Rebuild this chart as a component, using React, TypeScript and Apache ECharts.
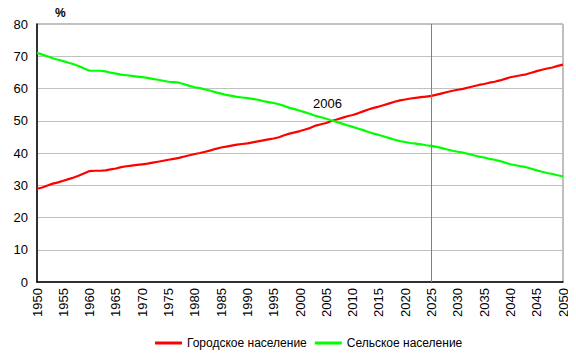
import React, { useEffect, useRef } from "react";
import * as echarts from "echarts";

const years: number[] = [];
for (let y = 1950; y <= 2050; y++) years.push(y);

const urban = [
  28.9, 29.3, 29.9, 30.5, 30.9, 31.4, 31.9, 32.4, 33.0, 33.7,
  34.4, 34.5, 34.5, 34.6, 34.9, 35.2, 35.6, 35.9, 36.1, 36.3,
  36.5, 36.7, 37.0, 37.3, 37.6, 37.9, 38.2, 38.5, 38.9, 39.3,
  39.7, 40.0, 40.4, 40.8, 41.3, 41.7, 42.0, 42.3, 42.6, 42.8,
  43.0, 43.3, 43.6, 43.9, 44.2, 44.5, 44.9, 45.5, 46.0, 46.4,
  46.8, 47.3, 47.8, 48.5, 48.9, 49.3, 49.9, 50.4, 50.9, 51.4,
  51.8, 52.3, 52.9, 53.5, 54.0, 54.4, 54.9, 55.4, 55.9, 56.3,
  56.6, 56.9, 57.1, 57.3, 57.5, 57.7, 58.1, 58.5, 58.9, 59.3,
  59.6, 59.9, 60.3, 60.7, 61.1, 61.4, 61.8, 62.1, 62.5, 63.0,
  63.5, 63.8, 64.1, 64.4, 64.9, 65.4, 65.8, 66.2, 66.5, 67.0,
  67.4,
];

const rural = [
  71.1, 70.5, 70.0, 69.4, 68.9, 68.5, 68.0, 67.5, 66.9, 66.2,
  65.5, 65.5, 65.5, 65.3, 64.9, 64.6, 64.3, 64.1, 63.9, 63.7,
  63.5, 63.3, 63.0, 62.7, 62.4, 62.1, 62.0, 61.8, 61.3, 60.8,
  60.4, 60.1, 59.7, 59.3, 58.8, 58.4, 58.0, 57.7, 57.4, 57.2,
  57.0, 56.8, 56.5, 56.1, 55.8, 55.5, 55.1, 54.6, 54.0, 53.6,
  53.1, 52.6, 52.1, 51.5, 51.1, 50.6, 50.1, 49.6, 49.1, 48.6,
  48.1, 47.6, 47.1, 46.5, 46.0, 45.6, 45.1, 44.6, 44.1, 43.7,
  43.4, 43.1, 42.9, 42.7, 42.4, 42.2, 41.9, 41.5, 41.1, 40.7,
  40.4, 40.1, 39.7, 39.3, 38.9, 38.6, 38.2, 37.9, 37.5, 37.0,
  36.5, 36.2, 35.9, 35.6, 35.1, 34.6, 34.2, 33.8, 33.5, 33.1,
  32.7,
];

const seriesNames = ["Городское население", "Сельское население"];
const markYear = 2025;
const crossYear = 2006;
const crossValue = 50;

const FONT = "'Liberation Sans', Arial, sans-serif";

export default function App() {
  const ref = useRef<HTMLDivElement>(null);
  useEffect(() => {
    if (!ref.current) return;
    const chart = echarts.init(ref.current, undefined, { renderer: "svg" });
    chart.setOption({
      animation: false,
      textStyle: { fontFamily: FONT },
      grid: {
        left: 37,
        right: 13,
        top: 24,
        bottom: 76,
        show: true,
        borderColor: "#808080",
        borderWidth: 1,
        backgroundColor: "transparent",
      },
      legend: {
        bottom: 4,
        left: 150,
        itemWidth: 27,
        itemHeight: 3,
        itemGap: 8,
        icon: "rect",
        textStyle: { fontSize: 12, color: "#000", fontFamily: FONT },
        data: seriesNames,
      },
      graphic: [
        {
          type: "text",
          left: 55,
          top: 7,
          style: { text: "%", fontSize: 12, fontWeight: "bold", fill: "#000", fontFamily: FONT },
        },
      ],
      xAxis: {
        type: "value",
        min: 1950,
        max: 2050,
        interval: 5,
        axisLine: { lineStyle: { color: "#000", width: 1.5 } },
        axisTick: { show: false },
        splitLine: { show: false },
        axisLabel: {
          rotate: 90,
          fontSize: 13,
          color: "#000",
          margin: 6,
          fontFamily: FONT,
          formatter: (v: number) => String(v),
        },
      },
      yAxis: {
        type: "value",
        min: 0,
        max: 80,
        interval: 10,
        axisLine: { show: true, lineStyle: { color: "#000", width: 1.5 } },
        axisTick: { show: false },
        splitLine: { lineStyle: { color: "#c0c0c0", width: 1 } },
        axisLabel: { fontSize: 13, color: "#000", margin: 9, fontFamily: FONT },
      },
      series: [
        {
          name: seriesNames[0],
          type: "line",
          data: years.map((y, i) => [y, urban[i]]),
          showSymbol: false,
          symbol: "none",
          lineStyle: { color: "#ff0000", width: 2.2 },
          itemStyle: { color: "#ff0000" },
          markLine: {
            silent: true,
            symbol: ["none", "none"],
            label: { show: false },
            lineStyle: { color: "#808080", width: 1, type: "solid" },
            data: [{ xAxis: markYear }],
          },
          markPoint: {
            silent: true,
            symbol: "circle",
            symbolSize: 0,
            data: [
              {
                coord: [crossYear, crossValue],
                label: {
                  show: true,
                  formatter: String(crossYear),
                  position: "top",
                  offset: [-4, -6],
                  fontSize: 13,
                  color: "#000",
                  fontFamily: FONT,
                },
              },
            ],
          },
        },
        {
          name: seriesNames[1],
          type: "line",
          data: years.map((y, i) => [y, rural[i]]),
          showSymbol: false,
          symbol: "none",
          lineStyle: { color: "#00ff00", width: 2.2 },
          itemStyle: { color: "#00ff00" },
        },
      ],
    });
    return () => chart.dispose();
  }, []);
  return <div ref={ref} style={{ width: 576, height: 358, margin: -8 }} />;
}
